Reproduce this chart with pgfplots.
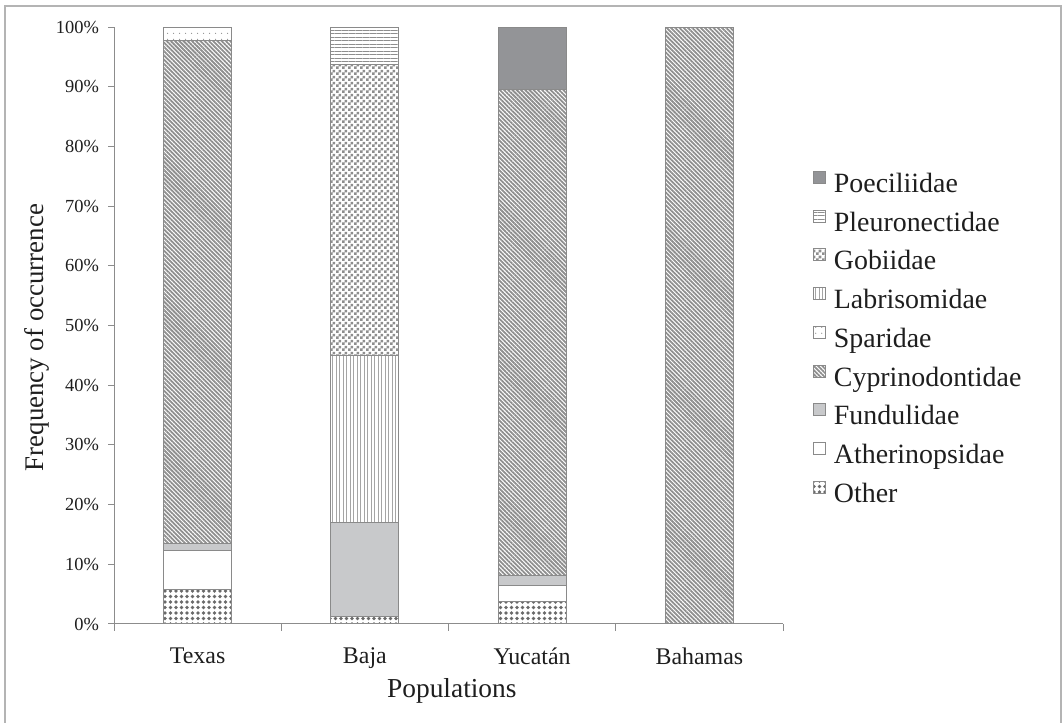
\documentclass[border=0pt]{standalone}
\usepackage{fontspec}
\setmainfont{Liberation Serif}
\usepackage{pgfplots}
\pgfplotsset{compat=1.18}
\usetikzlibrary{patterns,patterns.meta}
\definecolor{axgray}{HTML}{8C8C8C}
\definecolor{bargray}{HTML}{8A8A8A}
\definecolor{framegray}{HTML}{B4B4B4}
\definecolor{txt}{HTML}{1E1E1E}
\definecolor{poec}{HTML}{939497}
\definecolor{fund}{HTML}{C8C9CB}
\definecolor{patgray}{HTML}{8E8E8E}
\definecolor{patdark}{HTML}{6A6A6A}
\pgfdeclarepatternformonly{checker3}{\pgfpointorigin}{\pgfpoint{6bp}{6bp}}{\pgfpoint{6bp}{6bp}}{%
  \pgfpathrectangle{\pgfpointorigin}{\pgfpoint{3bp}{3bp}}%
  \pgfpathrectangle{\pgfpoint{3bp}{3bp}}{\pgfpoint{3bp}{3bp}}%
  \pgfusepath{fill}}
\begin{document}
\begin{tikzpicture}
\path[use as bounding box] (0,0) rectangle (1064bp,723bp);
\draw[framegray, line width=1.5bp] (5bp,0) -- (5bp,717bp) -- (1061bp,717bp) -- (1061bp,0);
\begin{axis}[
  at={(114bp,99bp)}, anchor=south west,
  scale only axis, width=669bp, height=596.7bp,
  ybar stacked, bar width=68bp,
  xmin=-0.5, xmax=3.5, ymin=0, ymax=100,
  axis x line*=bottom, axis y line*=left,
  axis line style={draw=axgray, line width=1bp, -},
  tick align=outside,
  major tick length=6bp, minor tick length=7bp,
  tick style={draw=axgray, line width=1bp},
  major x tick style={draw=none},
  xtick={0,1,2,3}, xticklabels={Texas,Baja,Yucatán,Bahamas},
  minor xtick={-0.5,0.5,1.5,2.5,3.5},
  ytick={0,10,...,100},
  yticklabels={0\%,10\%,20\%,30\%,40\%,50\%,60\%,70\%,80\%,90\%,100\%},
  yticklabel style={font=\fontsize{18.5}{20}\selectfont, text=txt, xshift=-5.5bp},
  xticklabel style={font=\fontsize{24}{26}\selectfont, text=txt, yshift=-14bp},
  xlabel={Populations},
  xlabel style={font=\fontsize{27.5}{30}\selectfont, text=txt, at={(axis cs:1.52,0)}, anchor=base, yshift=-73bp},
  ylabel={Frequency of occurrence},
  ylabel style={font=\fontsize{27}{30}\selectfont, text=txt, at={(axis description cs:-0.115,0.48)}, anchor=center},
  reverse legend,
  legend cell align=left,
  legend image code/.code={\draw[#1, draw=bargray, line width=1bp] (0bp,2bp) rectangle (12bp,14bp);},
  legend style={at={(axis description cs:1.04,0.764)}, anchor=north west, draw=none, fill=none,
    font=\fontsize{28}{30}\selectfont, text=txt, row sep=8.75bp,
    nodes={inner xsep=3bp, inner ysep=2bp, text height=20bp, text depth=6bp},
    /tikz/every odd column/.style={column sep=5bp}},
]
\addplot[draw=bargray, line width=1bp, pattern={Dots[distance=5.5bp, radius=1.8bp]}, pattern color=patdark]
  coordinates {(0,5.7) (1,1.3) (2,3.8) (3,0)};
\addlegendentry{Other}
\addplot[draw=bargray, line width=1bp, fill=white]
  coordinates {(0,6.7) (1,0) (2,2.6) (3,0)};
\addlegendentry{Atherinopsidae}
\addplot[draw=bargray, line width=1bp, fill=fund]
  coordinates {(0,1.1) (1,15.7) (2,1.8) (3,0)};
\addlegendentry{Fundulidae}
\addplot[draw=bargray, line width=1bp, pattern={Lines[angle=-45, distance=3bp, line width=1.8bp]}, pattern color=patgray]
  coordinates {(0,84.3) (1,0) (2,81.3) (3,100)};
\addlegendentry{Cyprinodontidae}
\addplot[draw=bargray, line width=1bp, pattern={Dots[distance=6bp, radius=0.7bp]}, pattern color=patgray]
  coordinates {(0,2.2) (1,0) (2,0) (3,0)};
\addlegendentry{Sparidae}
\addplot[draw=bargray, line width=1bp, pattern={Lines[angle=90, distance=3.5bp, line width=0.8bp]}, pattern color=patgray!80]
  coordinates {(0,0) (1,28) (2,0) (3,0)};
\addlegendentry{Labrisomidae}
\addplot[draw=bargray, line width=1bp, pattern=checker3, pattern color=patgray]
  coordinates {(0,0) (1,48.8) (2,0) (3,0)};
\addlegendentry{Gobiidae}
\addplot[draw=bargray, line width=1bp, pattern={Lines[angle=0, distance=3.5bp, line width=0.8bp]}, pattern color=patgray]
  coordinates {(0,0) (1,6.2) (2,0) (3,0)};
\addlegendentry{Pleuronectidae}
\addplot[draw=bargray, line width=1bp, fill=poec]
  coordinates {(0,0) (1,0) (2,10.5) (3,0)};
\addlegendentry{Poeciliidae}
\end{axis}
\end{tikzpicture}
\end{document}
